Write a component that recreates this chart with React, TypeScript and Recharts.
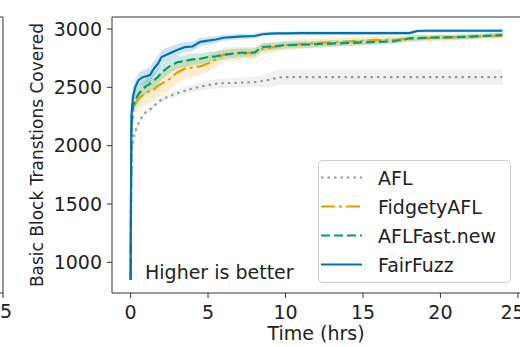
import { Area, ComposedChart, Line, ReferenceArea, XAxis, YAxis } from "recharts";

const FONT = "DejaVu Sans";
const INK = "#222222";

// time in hours
const TIME = [
  0, 0.05, 0.15, 0.3, 0.5, 0.75, 1, 1.25, 1.5, 1.75, 2, 2.5, 3, 3.5, 4, 4.5, 5, 5.5, 6, 7, 8,
  8.5, 9, 9.5, 10, 11, 12, 13, 14, 15, 16, 17, 18, 18.5, 19, 20, 21, 22, 23, 24,
];

const AFL = [
  850, 1900, 2050, 2120, 2190, 2250, 2290, 2310, 2340, 2370, 2395, 2425, 2450, 2470, 2490, 2505,
  2520, 2530, 2535, 2540, 2545, 2555, 2565, 2585, 2588, 2588, 2588, 2588, 2588, 2588, 2588, 2588,
  2588, 2588, 2588, 2588, 2588, 2588, 2588, 2588,
];
const AFL_SPREAD = [
  0, 20, 20, 20, 20, 20, 20, 20, 20, 22, 24, 26, 28, 30, 32, 34, 36, 38, 40, 42, 45, 50, 60, 66,
  66, 66, 66, 66, 66, 66, 66, 66, 66, 66, 66, 66, 66, 66, 66, 66,
];

const FIDGETY = [
  850, 2100, 2300, 2360, 2400, 2430, 2450, 2470, 2480, 2510, 2530, 2570, 2625, 2660, 2670, 2680,
  2705, 2740, 2780, 2790, 2795, 2830, 2840, 2850, 2860, 2870, 2878, 2885, 2893, 2898, 2905, 2908,
  2915, 2918, 2922, 2926, 2930, 2935, 2940, 2945,
];
const FIDGETY_SPREAD = [
  0, 80, 80, 80, 90, 95, 100, 100, 100, 100, 100, 95, 90, 85, 80, 75, 70, 65, 60, 55, 50, 45, 45,
  42, 40, 40, 38, 36, 35, 35, 32, 30, 30, 30, 28, 28, 26, 25, 25, 25,
];

const AFLFAST = [
  850, 2150, 2330, 2390, 2440, 2480, 2510, 2530, 2560, 2585, 2630, 2680, 2715, 2725, 2740, 2745,
  2760, 2765, 2780, 2795, 2800, 2845, 2850, 2855, 2862, 2865, 2870, 2875, 2880, 2885, 2890, 2895,
  2920, 2922, 2925, 2928, 2930, 2935, 2942, 2948,
];
const AFLFAST_SPREAD = [
  0, 60, 60, 65, 70, 70, 70, 70, 70, 70, 65, 60, 55, 52, 50, 48, 45, 42, 40, 38, 36, 34, 32, 30,
  30, 28, 28, 26, 26, 25, 25, 24, 22, 22, 22, 20, 20, 20, 20, 20,
];

const FAIRFUZZ = [
  850, 2250, 2420, 2500, 2560, 2585, 2595, 2605, 2660, 2700, 2760, 2790, 2820, 2845, 2850, 2890,
  2900, 2910, 2925, 2935, 2940, 2955, 2960, 2962, 2962, 2965, 2965, 2965, 2965, 2965, 2965, 2965,
  2965, 2983, 2985, 2985, 2985, 2985, 2985, 2985,
];
const FAIRFUZZ_SPREAD = [
  0, 70, 70, 65, 60, 60, 60, 62, 65, 65, 60, 55, 50, 45, 40, 36, 32, 30, 26, 24, 20, 18, 16, 15,
  15, 15, 15, 15, 15, 15, 15, 15, 15, 14, 14, 14, 14, 14, 14, 14,
];

const X_TICKS = [0, 5, 10, 15, 20, 25];
const Y_TICKS = [1000, 1500, 2000, 2500, 3000];

const SERIES = [
  { key: "afl", name: "AFL", color: "#999999", dash: "2.5 4", values: AFL, spread: AFL_SPREAD, band: "#bbbbbb" },
  { key: "fidgety", name: "FidgetyAFL", color: "#E69F00", dash: "14 4 3 4", values: FIDGETY, spread: FIDGETY_SPREAD, band: "#E69F00" },
  { key: "aflfast", name: "AFLFast.new", color: "#009E73", dash: "9 4", values: AFLFAST, spread: AFLFAST_SPREAD, band: "#009E73" },
  { key: "fairfuzz", name: "FairFuzz", color: "#0072B2", dash: undefined, values: FAIRFUZZ, spread: FAIRFUZZ_SPREAD, band: "#0072B2" },
];

const data = TIME.map((t, i) => {
  const row: Record<string, number | number[]> = { t };
  SERIES.forEach((s) => {
    row[s.key] = s.values[i];
    row[s.key + "Band"] = [s.values[i] - s.spread[i], s.values[i] + s.spread[i]];
  });
  return row;
});

const tickStyle = { fontSize: 19, fill: INK, fontFamily: FONT };

export default function App() {
  return (
    <div
      style={{
        position: "absolute",
        left: 0,
        top: 0,
        width: 520,
        height: 347,
        overflow: "hidden",
        background: "#fff",
      }}
    >
      <ComposedChart
        width={522}
        height={347}
        data={data}
        margin={{ top: 17, right: 1, bottom: 0, left: 0 }}
      >
        <XAxis
          dataKey="t"
          type="number"
          domain={[-1.2, 25.2]}
          allowDataOverflow
          ticks={X_TICKS}
          height={54}
          tick={tickStyle}
          tickSize={5}
          tickMargin={8}
          axisLine={false}
          tickLine={{ stroke: "#333" }}
        />
        <YAxis
          type="number"
          domain={[737, 3103]}
          allowDataOverflow
          ticks={Y_TICKS}
          width={112}
          tick={tickStyle}
          tickSize={5}
          tickMargin={5}
          axisLine={false}
          tickLine={{ stroke: "#333" }}
        />
        {SERIES.map((s) => (
          <Area
            key={s.key + "Band"}
            dataKey={s.key + "Band"}
            type="linear"
            stroke="none"
            fill={s.band}
            fillOpacity={0.2}
            dot={false}
            activeDot={false}
            isAnimationActive={false}
          />
        ))}
        {SERIES.map((s) => (
          <Line
            key={s.key}
            dataKey={s.key}
            type="linear"
            stroke={s.color}
            strokeWidth={2.2}
            strokeDasharray={s.dash}
            dot={false}
            activeDot={false}
            isAnimationActive={false}
          />
        ))}
        <ReferenceArea
          x1={-1.2}
          x2={25.2}
          y1={737}
          y2={3103}
          fill="none"
          stroke="#333"
          strokeWidth={1}
          ifOverflow="visible"
        />
      </ComposedChart>

      <svg
        width={520}
        height={347}
        style={{ position: "absolute", left: 0, top: 0, pointerEvents: "none" }}
        fontFamily={FONT}
        fill={INK}
      >
        {/* edge of the neighbouring subplot */}
        <path d="M0 17 H3 V293 H0 M3 293 V298" stroke="#333" fill="none" />
        <text x={0} y={318} fontSize={19} textAnchor="middle">25</text>

        <text
          transform="translate(37 155) rotate(-90)"
          fontSize={17}
          textAnchor="middle"
          dominantBaseline="central"
        >
          Basic Block Transtions Covered
        </text>
        <text x={316} y={340} fontSize={19} textAnchor="middle">Time (hrs)</text>
        <text x={145} y={278.5} fontSize={19}>Higher is better</text>

        <rect
          x={318.5}
          y={160.5}
          width={192}
          height={122}
          rx={4}
          fill="#fff"
          fillOpacity={0.8}
          stroke="#cccccc"
        />
        {SERIES.map((s, i) => (
          <g key={s.key}>
            <line
              x1={321}
              x2={362}
              y1={177.5 + i * 29}
              y2={177.5 + i * 29}
              stroke={s.color}
              strokeWidth={2.2}
              strokeDasharray={s.dash}
            />
            <text x={378} y={184.5 + i * 29} fontSize={19}>{s.name}</text>
          </g>
        ))}
      </svg>
    </div>
  );
}
